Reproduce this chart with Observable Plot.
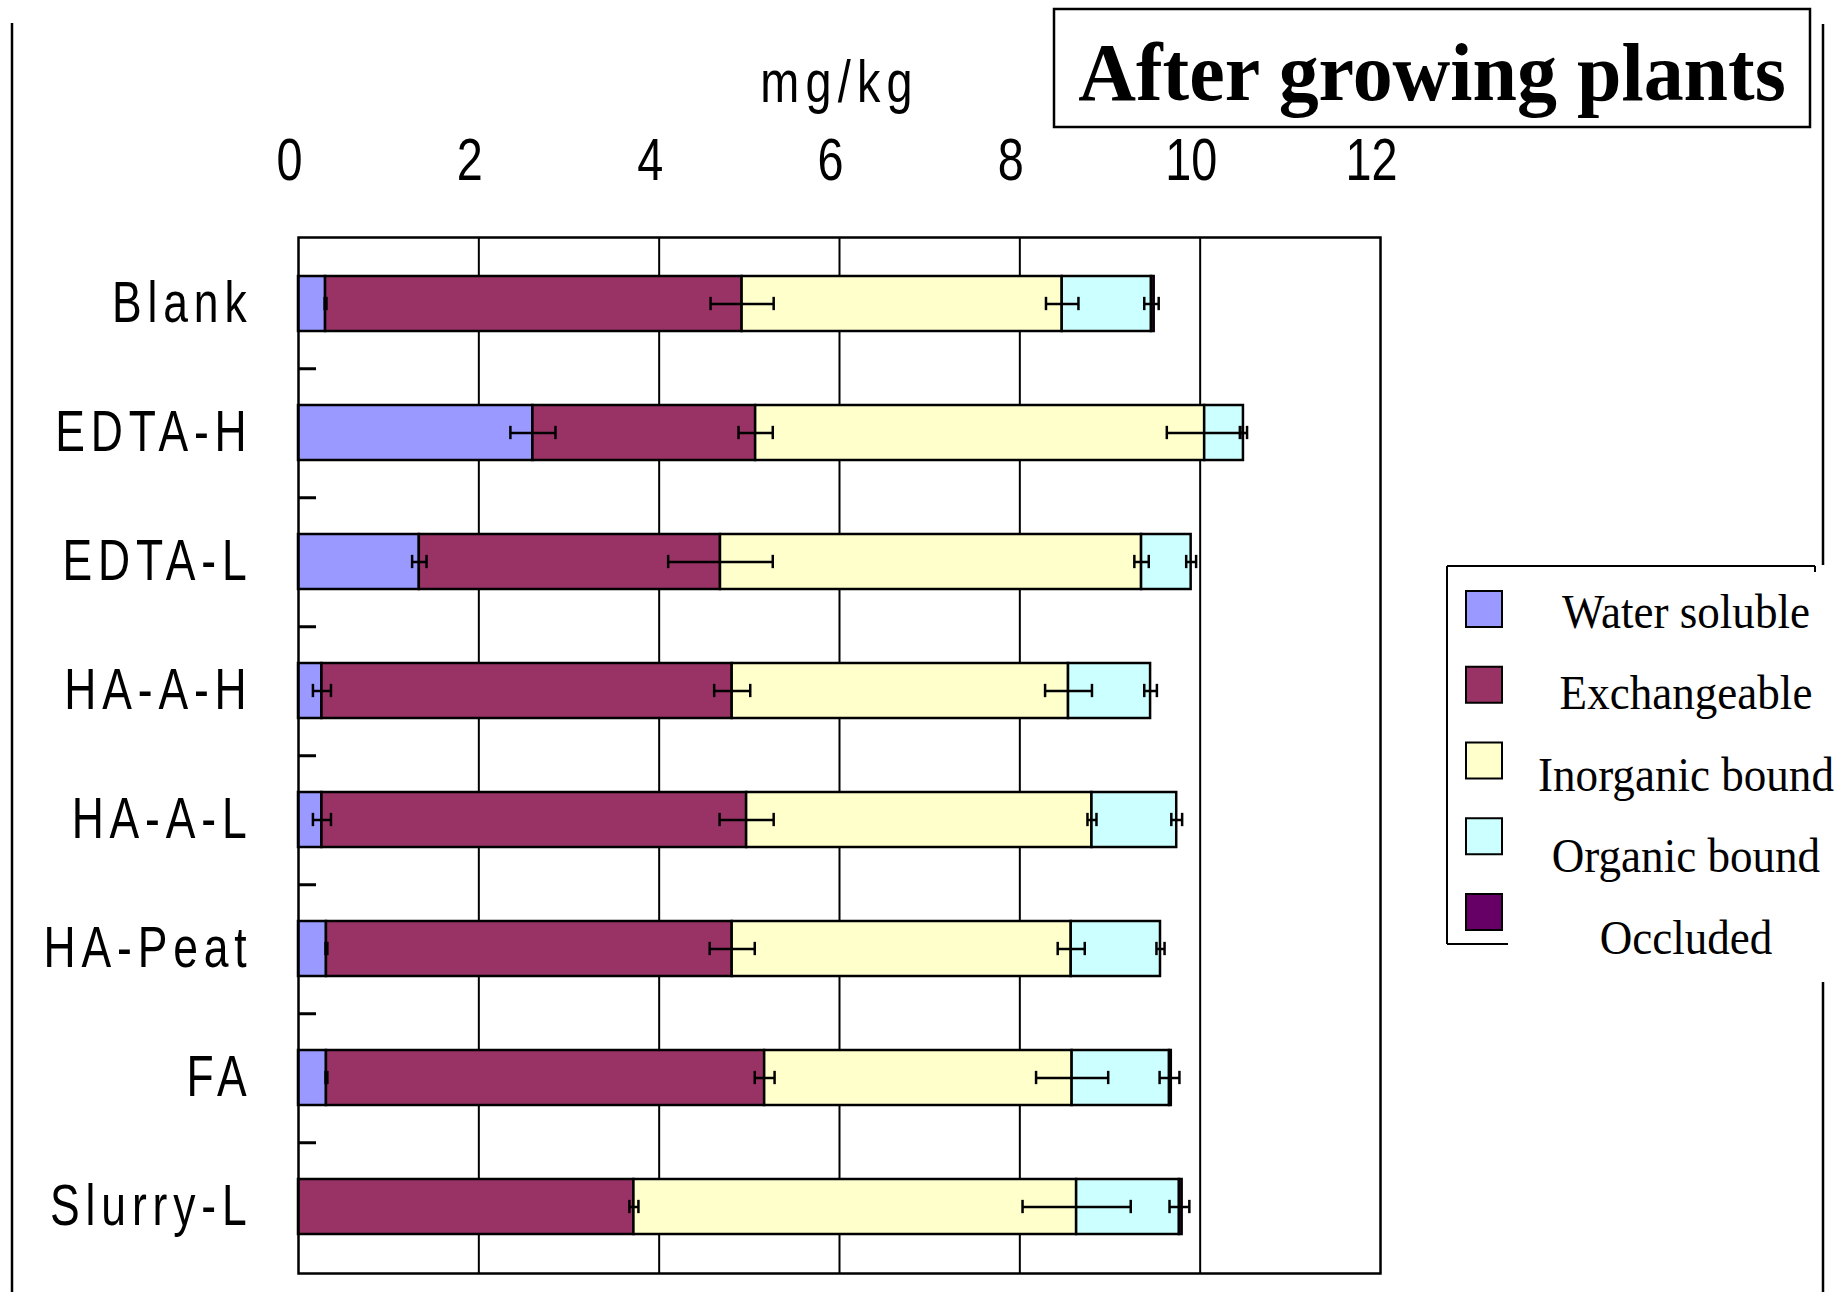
<!DOCTYPE html>
<html>
<head>
<meta charset="utf-8">
<script src="https://cdn.jsdelivr.net/npm/d3@7"></script>
<script src="https://cdn.jsdelivr.net/npm/@observablehq/plot@0.6"></script>
<style>
  html, body { margin: 0; padding: 0; background: #fff; }
  #wrap { position: relative; width: 1845px; height: 1292px; overflow: hidden; background: #fff; }
  #wrap > svg { position: absolute; left: 0; top: 0; }
</style>
</head>
<body>
<div id="wrap"></div>
<script>
// ---------- data ----------
const categories = ["Blank", "EDTA-H", "EDTA-L", "HA-A-H", "HA-A-L", "HA-Peat", "FA", "Slurry-L"];
const seriesNames = ["Water soluble", "Exchangeable", "Inorganic bound", "Organic bound", "Occluded"];
const seriesColors = ["#9999FF", "#993366", "#FFFFCC", "#CCFFFF", "#660066"];

const waterSoluble   = [0.30, 2.60, 1.34, 0.26, 0.26, 0.31, 0.31, 0.00];
const exchangeable   = [4.62, 2.47, 3.34, 4.55, 4.71, 4.50, 4.86, 3.72];
const inorganicBound = [3.55, 4.98, 4.67, 3.73, 3.83, 3.76, 3.41, 4.91];
const organicBound   = [0.99, 0.43, 0.55, 0.91, 0.94, 0.99, 1.08, 1.14];
const occluded       = [0.03, 0.00, 0.00, 0.00, 0.00, 0.00, 0.02, 0.03];

const waterSolubleErr   = [0.01, 0.25, 0.08, 0.10, 0.10, 0.01, 0.01, 0.00];
const exchangeableErr   = [0.35, 0.19, 0.58, 0.20, 0.30, 0.25, 0.11, 0.05];
const inorganicBoundErr = [0.18, 0.42, 0.08, 0.26, 0.05, 0.15, 0.40, 0.60];
const organicBoundErr   = [0.08, 0.04, 0.055, 0.07, 0.06, 0.045, 0.11, 0.11];

const xTicks = [0, 2, 4, 6, 8, 10, 12];
const xGrid = [2, 4, 6, 8, 10];
const xDomain = [0, 12];
const xUnit = "mg/kg";
const titleText = "After growing plants";

// ---------- build tables ----------
const seriesValues = [waterSoluble, exchangeable, inorganicBound, organicBound, occluded];
const seriesErrors = [waterSolubleErr, exchangeableErr, inorganicBoundErr, organicBoundErr, null];

const rows = [];
seriesNames.forEach((s, j) => categories.forEach((c, i) => {
  const v = seriesValues[j][i];
  if (v > 0) rows.push({cat: c, series: s, value: v});
}));

const errs = [];
categories.forEach((c, i) => {
  let cum = 0;
  seriesNames.forEach((s, j) => {
    cum += seriesValues[j][i];
    const e = seriesErrors[j] ? seriesErrors[j][i] : 0;
    if (e > 0) errs.push({cat: c, series: s, lo: cum - e, hi: cum + e});
  });
});

// ---------- layout ----------
const W = 1845, H = 1292;
const mL = 298, mR = 465, mT = 237, mB = 19;
const step = (H - mT - mB) / categories.length;
const bandInset = (step * 0.43 - 14) / 2;

const chart = Plot.plot({
  width: W, height: H,
  marginLeft: mL, marginRight: mR, marginTop: mT, marginBottom: mB,
  style: {fontFamily: "'Liberation Sans', Arial, sans-serif", background: "white", color: "black"},
  x: {domain: xDomain},
  y: {domain: categories, paddingInner: 0.57, paddingOuter: 0.285},
  color: {domain: seriesNames, range: seriesColors},
  marks: [
    Plot.gridX(xGrid, {stroke: "black", strokeOpacity: 1, strokeWidth: 2}),
    Plot.barX(rows, {x: "value", y: "cat", fill: "series", stroke: "black", strokeWidth: 2.5}),
    Plot.ruleY(errs, {y: "cat", x1: "lo", x2: "hi", stroke: "black", strokeWidth: 2.5}),
    Plot.tickX(errs, {x: "lo", y: "cat", stroke: "black", strokeWidth: 2.5, insetTop: bandInset, insetBottom: bandInset}),
    Plot.tickX(errs, {x: "hi", y: "cat", stroke: "black", strokeWidth: 2.5, insetTop: bandInset, insetBottom: bandInset}),
    Plot.ruleY(categories.slice(0, -1), {y: d => d, x1: 0, x2: 0.2, dy: step / 2, stroke: "black", strokeWidth: 3}),
    Plot.frame({stroke: "black", strokeWidth: 2.5}),
    Plot.axisX(xTicks, {anchor: "top", tickSize: 0, tickPadding: 58, dx: -9, fontSize: 60,
      tickFormat: d => String(d), label: xUnit, labelAnchor: "center", labelArrow: "none", labelOffset: 178}),
    Plot.axisY({anchor: "left", tickSize: 0, tickPadding: 46, fontSize: 57, label: null})
  ]
});

// condense the tall, narrow lettering of the original
function condense(root, selector, sx) {
  root.querySelectorAll(selector).forEach(t => {
    const x = +t.getAttribute("x") || 0, y = +t.getAttribute("y") || 0;
    const tr = t.getAttribute("transform") || "";
    t.setAttribute("transform", `${tr} translate(${x},${y}) scale(${sx},1) translate(${-x},${-y})`);
  });
}
chart.querySelectorAll('g[aria-label="y-axis tick label"] text').forEach(t => t.setAttribute("letter-spacing", "7.5"));
chart.querySelectorAll('g[aria-label="x-axis label"] text').forEach(t => t.setAttribute("letter-spacing", "8"));
condense(chart, "text", 0.78);

const wrap = document.getElementById("wrap");
wrap.appendChild(chart);

// ---------- overlay: page border, title box, legend ----------
const ov = d3.create("svg").attr("width", W).attr("height", H).style("pointer-events", "none");
const line = (x1, y1, x2, y2, w) => ov.append("line").attr("x1", x1).attr("y1", y1).attr("x2", x2).attr("y2", y2)
  .attr("stroke", "black").attr("stroke-width", w);
line(12, 23, 12, H, 2.5);
line(1823, 24, 1823, 565, 2.5);
line(1823, 982, 1823, H, 2.5);

ov.append("rect").attr("x", 1054).attr("y", 9).attr("width", 756).attr("height", 118)
  .attr("fill", "white").attr("stroke", "black").attr("stroke-width", 2.5);
ov.append("text").attr("x", 1432).attr("y", 100).attr("text-anchor", "middle")
  .attr("font-family", "'Liberation Serif', 'Times New Roman', serif").attr("font-weight", "bold")
  .attr("font-size", 82).attr("transform", "translate(1432,0) scale(0.975,1) translate(-1432,0)")
  .text(titleText);

// legend frame
line(1447, 566, 1447, 944, 2);
line(1447, 566, 1815, 566, 2);
line(1815, 566, 1815, 572, 2);
line(1447, 944, 1508, 944, 2);

seriesNames.forEach((s, i) => {
  ov.append("rect").attr("x", 1466).attr("y", 591 + i * 75.75).attr("width", 36).attr("height", 36)
    .attr("fill", seriesColors[i]).attr("stroke", "black").attr("stroke-width", 2);
  const ty = 628 + i * 81.5;
  ov.append("text").attr("x", 1686).attr("y", ty).attr("text-anchor", "middle")
    .attr("font-family", "'Liberation Serif', 'Times New Roman', serif").attr("font-size", 49)
    .attr("transform", `translate(1686,0) scale(0.92,1) translate(-1686,0)`)
    .text(s);
});
wrap.appendChild(ov.node());
</script>
</body>
</html>
